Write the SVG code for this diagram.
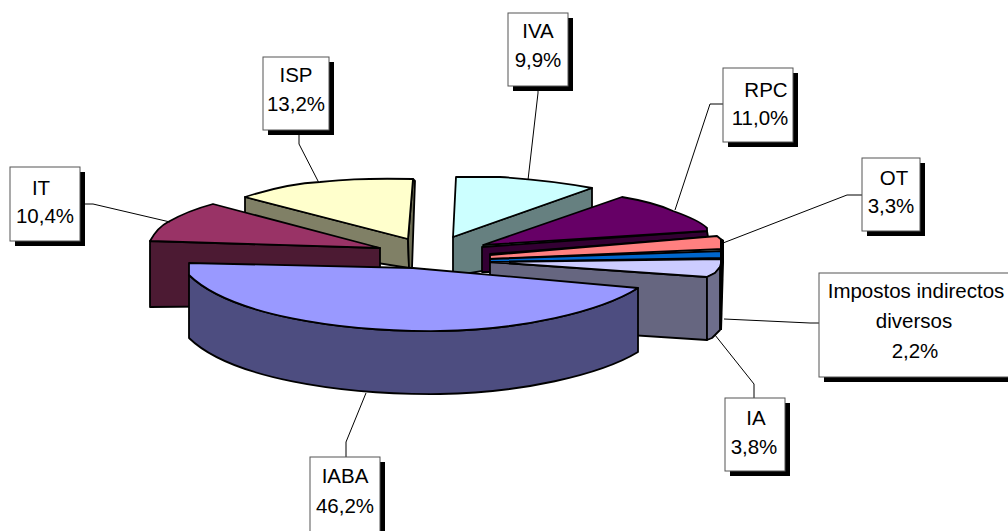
<svg xmlns="http://www.w3.org/2000/svg" width="1008" height="531" viewBox="0 0 1008 531">
<style>
.s{stroke:#000;stroke-width:1.8;stroke-linejoin:round}
.box{fill:#fff;stroke:#555;stroke-width:1}
.sh{fill:#000}
.lbl{font-family:"Liberation Sans",Arial,sans-serif;font-size:20.5px;fill:#000;text-anchor:middle}
.ld{fill:none;stroke:#000;stroke-width:1}
</style>
<rect width="1008" height="531" fill="#fff"/>
<g id="slice-IVA">
<path class="s" fill="#668080" d="M453,237 L592,188 L592,252 L453,276 Z"/>
<path class="s" fill="#CCFFFF" d="M456,177 L500,177 C530,179 560,182 592,188 L453,237 Z"/>
</g>
<g id="slice-ISP">
<path class="s" fill="#808066" d="M245,197 L408,239 L409,268 L245,242 Z"/>
<path class="s" fill="#6E6E55" d="M408,239 L413,179 L415,181 L412,268 L409,268 Z"/>
<path class="s" fill="#FFFFCC" d="M245,197 C270,189 300,183 320,182 C340,180 360,178 413,179 L408,239 Z"/>
</g>
<g id="slice-RPC">
<path class="s" fill="#330033" d="M482,247 L707,231 L708,237 L490,254 L490,272 L482,272 Z"/>
<path class="s" fill="#660066" d="M483,245 L622,197 C640,200 660,205 673,211 C690,217 702,223 707,228 L707,231 Z"/>
</g>
<g id="slice-OT">
<path class="s" fill="#FF8080" d="M490,255 L717,236 L723,241 L723,249 L490,259 Z"/>
</g>
<g id="slice-small">
<path class="s" fill="#0066CC" d="M490,259 L723,251 L723,258 L490,262 Z"/>
</g>
<g id="slice-IA">
<path class="s" fill="#666680" d="M490,262 L707,277 L707,340 L490,326 Z"/>
<path class="s" fill="#CCCCFF" d="M490,262 L722,259 L720,267 L715,273 L707,277 Z"/>
<path class="s" fill="#6E6E8C" d="M707,277 L715,273 L720,267 L720,330 L712,338 L707,340 Z"/>
<path fill="#000" d="M720,238 L724,240 L724,262 L722,330 L720,330 Z"/>
</g>
<g id="slice-IT">
<path class="s" fill="#4C1A33" d="M150,241 L380,248 L380,305 L150,307 Z"/>
<path class="s" fill="#993366" d="M150,241 C155,232 160,226 168,222 C182,214 198,208 213,204 L380,248 Z"/>
</g>
<g id="slice-IABA">
<path class="s" fill="#4D4D80" d="M189,275 C230,315 340,332 440,331 C520,330 600,312 638,288 L638,352 C600,375 520,393 440,394 C340,395 230,378 189,338 Z"/>
<path class="s" fill="#9999FF" d="M189,263 L413,268 L638,288 C600,312 520,330 440,331 C340,332 230,315 189,275 Z"/>
</g>
<g id="connectors">
<polyline class="ld" points="538,86 538,93 528,180"/>
<polyline class="ld" points="299,130 299,144 319,183"/>
<polyline class="ld" points="80,204 93,204 170,222"/>
<polyline class="ld" points="723,104 710,104 675,210"/>
<polyline class="ld" points="862,195 847,195 723,243"/>
<polyline class="ld" points="819,323 810,323 724,319"/>
<polyline class="ld" points="754,398 754,384 715,335"/>
<polyline class="ld" points="346,457 346,442 366,393"/>
</g>
<g id="label-IVA">
<rect class="sh" x="513" y="18" width="60" height="73"/>
<rect class="box" x="508" y="13" width="60" height="73"/>
<text class="lbl" x="538" y="38">IVA</text>
<text class="lbl" x="538" y="67">9,9%</text>
</g>
<g id="label-ISP">
<rect class="sh" x="268" y="62" width="66" height="73"/>
<rect class="box" x="263" y="57" width="66" height="73"/>
<text class="lbl" x="296" y="82">ISP</text>
<text class="lbl" x="296" y="111">13,2%</text>
</g>
<g id="label-IT">
<rect class="sh" x="15" y="172" width="70" height="74"/>
<rect class="box" x="10" y="167" width="70" height="74"/>
<text class="lbl" x="41" y="195">IT</text>
<text class="lbl" x="45" y="223">10,4%</text>
</g>
<g id="label-RPC">
<rect class="sh" x="728" y="73" width="70" height="74"/>
<rect class="box" x="723" y="68" width="70" height="74"/>
<text class="lbl" x="766" y="97">RPC</text>
<text class="lbl" x="760" y="125">11,0%</text>
</g>
<g id="label-OT">
<rect class="sh" x="867" y="163" width="58" height="73"/>
<rect class="box" x="862" y="158" width="58" height="73"/>
<text class="lbl" x="894" y="185">OT</text>
<text class="lbl" x="891" y="213">3,3%</text>
</g>
<g id="label-diversos">
<rect class="sh" x="824" y="278" width="200" height="104"/>
<rect class="box" x="819" y="273" width="200" height="104"/>
<text class="lbl" x="916" y="298">Impostos indirectos</text>
<text class="lbl" x="914" y="328">diversos</text>
<text class="lbl" x="915" y="358">2,2%</text>
</g>
<g id="label-IA">
<rect class="sh" x="730" y="403" width="60" height="73"/>
<rect class="box" x="725" y="398" width="60" height="73"/>
<text class="lbl" x="756" y="425">IA</text>
<text class="lbl" x="754" y="454">3,8%</text>
</g>
<g id="label-IABA">
<rect class="sh" x="315" y="462" width="70" height="80"/>
<rect class="box" x="310" y="457" width="70" height="80"/>
<text class="lbl" x="345" y="483">IABA</text>
<text class="lbl" x="345" y="513">46,2%</text>
</g>
</svg>
